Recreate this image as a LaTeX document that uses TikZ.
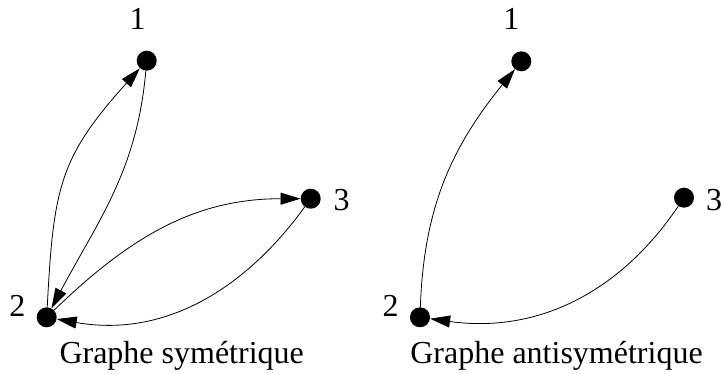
\documentclass[tikz,border=0pt]{standalone}
\usepackage{fontspec}
\setmainfont{Liberation Serif}
\usetikzlibrary{arrows.meta}

\begin{document}
\begin{tikzpicture}[x=1pt,y=1pt,
  sommet/.style={circle,fill,inner sep=0pt,minimum size=20pt},
  arc/.style={-{Triangle[length=20pt,width=12pt]},line width=0.8pt},
  font=\fontsize{32}{37}\selectfont]
  \useasboundingbox (0,0) rectangle (724,-374);
  \foreach \n/\x/\y/\lx/\ly/\lab in {a1/146.7/-60.7/137.7/-30/1,a2/46.7/-317.3/17.3/-316.7/2,a3/310.7/-198.7/341.7/-210.7/3,
    b1/521.3/-61.3/511.3/-30/1,b2/420/-317.3/390.7/-317/2,b3/684/-197.7/714/-210.7/3}{
     \node[sommet] (\n) at (\x,\y) {};
     \node[anchor=base] (l\n) at (\lx,\ly) {\lab};
  }
  \node[anchor=base] (capa) at (181.7,-364) {Graphe symétrique};
  \node[anchor=base] (capb) at (556.5,-364) {Graphe antisymétrique};
  % graphe symetrique
  \draw[arc] (a2) to[out=87,in=228,looseness=1.2] (a1);
  \draw[arc] (a1) to[out=-95,in=62] (a2);
  \draw[arc] (a2) to[out=44,in=180] (a3);
  \draw[arc] (a3) to[out=-126,in=-10] (a2);
  % graphe antisymetrique
  \draw[arc] (b2) to[out=88,in=231] (b1);
  \draw[arc] (b3) to[out=-124,in=-8] (b2);
\end{tikzpicture}
\end{document}
